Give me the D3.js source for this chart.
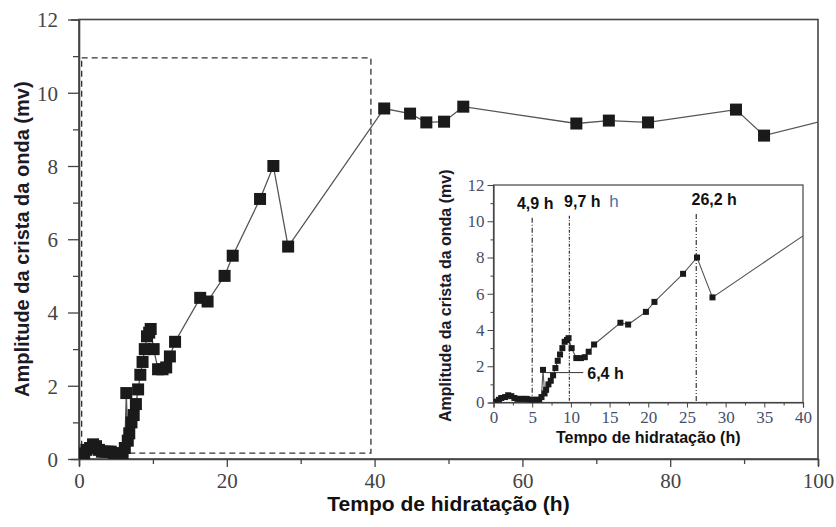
<!DOCTYPE html>
<html><head><meta charset="utf-8">
<script src="https://cdn.jsdelivr.net/npm/d3@7"></script>
<style>
body{margin:0;background:#fff}
.serif{font-family:"Liberation Serif","Tinos","Noto Serif","DejaVu Serif","FreeSerif","Nimbus Roman","Times New Roman",Times,serif !important}
.sans{font-family:"Liberation Sans",Arial,Helvetica,sans-serif}
</style>
</head><body>
<svg id="c" width="836" height="527"></svg>
<script>
const hours = [0.3,0.7,1.0,1.5,1.9,2.3,2.7,3.1,3.5,3.9,4.3,4.7,5.1,5.5,5.9,6.2,6.4,6.6,6.8,7.1,7.4,7.7,8.0,8.3,8.6,8.9,9.2,9.5,9.7,10.1,10.7,11.3,11.8,12.3,13.0,16.4,17.4,19.7,20.8,24.5,26.3,28.3,41.3,44.8,47.0,49.4,52.0,67.3,71.7,77.0,88.9,92.7,104];
const amplitude = [0.05,0.15,0.25,0.3,0.4,0.35,0.25,0.2,0.2,0.2,0.2,0.15,0.15,0.15,0.15,0.3,1.8,0.5,0.7,1.0,1.2,1.5,1.9,2.3,2.65,3.0,3.35,3.45,3.55,3.0,2.45,2.45,2.5,2.8,3.2,4.4,4.3,5.0,5.55,7.1,8.0,5.8,9.57,9.43,9.19,9.21,9.62,9.16,9.24,9.19,9.54,8.83,9.4];
const mainXTicks = [0,20,40,60,80,100];
const mainYTicks = [0,2,4,6,8,10,12];
const insetXTicks = [0,5,10,15,20,25,30,35,40];
const insetYTicks = [0,2,4,6,8,10,12];
const zoomBox = {t0:0.36, t1:39.5, v0:0.16, v1:10.95};
const markLines = [{t:5.0, top:10.2, label:"4,9 h", dx:3, dash:"5,2,1,2"},{t:9.8, top:10.3, label:"9,7 h", dx:13, dash:"3,1.5,1,1.5"},{t:26.2, top:10.4, label:"26,2 h", dx:18, dash:"5,2,1,2,1,2"}];
const label64 = {t0:6.7, t1:11.6, v:1.65, label:"6,4 h"};
const xTitle = "Tempo de hidratação (h)";
const yTitle = "Amplitude da crista da onda (mv)";
const data = hours.map((h,i)=>({t:h,v:amplitude[i]}));

const svg = d3.select("#c");

// ---- main chart
const L=79, R=818, T=19.5, B=459;
const x = d3.scaleLinear().domain([0,100]).range([L,R]);
const y = d3.scaleLinear().domain([0,12]).range([B,T]);
svg.append("defs").append("clipPath").attr("id","mclip").append("rect").attr("x",L).attr("y",T).attr("width",R-L).attr("height",B-T);
svg.append("rect").attr("x",L).attr("y",T).attr("width",R-L).attr("height",B-T).attr("fill","none").attr("stroke","#444").attr("stroke-width",1.6);

const xa = svg.append("g").attr("transform",`translate(0,${B})`)
  .call(d3.axisBottom(x).tickValues(d3.range(0,101,10)).tickSize(7).tickFormat(d=>mainXTicks.includes(d)?d:""));
xa.selectAll(".tick line").attr("y2",d=>d%20===0?8:5);
const ya = svg.append("g").attr("transform",`translate(${L},0)`)
  .call(d3.axisLeft(y).tickValues(d3.range(0,13,1)).tickSize(8).tickFormat(d=>mainYTicks.includes(d)?d:""));
ya.selectAll(".tick line").attr("x2",d=>d%2===0?-11:-6);
[xa,ya].forEach(a=>{a.attr("font-family",null).attr("font-size",null);
  a.select(".domain").attr("stroke","#444").attr("stroke-width",1.6);
  a.selectAll(".tick line").attr("stroke","#444").attr("stroke-width",1.3);
  a.selectAll("text").attr("class","serif").style("font-size","21px").attr("fill","#444");});
xa.selectAll("text").attr("dy","0.71em").attr("y",14);
ya.selectAll("text").attr("x",-21).attr("dy","0.35em");

svg.append("rect").attr("x",x(zoomBox.t0)).attr("y",y(zoomBox.v1)).attr("width",x(zoomBox.t1)-x(zoomBox.t0)).attr("height",y(zoomBox.v0)-y(zoomBox.v1))
  .attr("fill","none").attr("stroke","#333").attr("stroke-width",1.3).attr("stroke-dasharray","6,4");

const mg = svg.append("g").attr("clip-path","url(#mclip)");
mg.append("path").datum(data).attr("d",d3.line().x(d=>x(d.t)).y(d=>y(d.v))).attr("fill","none").attr("stroke","#555").attr("stroke-width",1.3);
mg.selectAll("rect.m").data(data).join("rect").attr("class","m").attr("x",d=>x(d.t)-6).attr("y",d=>y(d.v)-6).attr("width",12).attr("height",12).attr("fill","#1a1a1a");

svg.append("text").attr("class","sans").attr("x",(L+R)/2).attr("y",511).attr("text-anchor","middle").attr("font-weight","bold").style("font-size","21px").attr("fill","#111").text(xTitle);
svg.append("text").attr("class","sans").attr("transform",`translate(22,${(T+B)/2}) rotate(-90)`).attr("dy","0.35em").attr("text-anchor","middle").attr("font-weight","bold").style("font-size","20px").attr("fill","#1a1a2a").text(yTitle);

// ---- inset
const iL=493.5, iR=803, iT=185, iB=402.5;
svg.append("rect").attr("x",428).attr("y",168).attr("width",iR-428+6).attr("height",455-168).attr("fill","#fff");
const ix = d3.scaleLinear().domain([0,40]).range([iL,iR]);
const iy = d3.scaleLinear().domain([0,12]).range([iB,iT]);
svg.select("defs").append("clipPath").attr("id","iclip").append("rect").attr("x",iL).attr("y",iT).attr("width",iR-iL).attr("height",iB-iT);
svg.append("rect").attr("x",iL).attr("y",iT).attr("width",iR-iL).attr("height",iB-iT).attr("fill","none").attr("stroke","#444").attr("stroke-width",1.2);
const ixa = svg.append("g").attr("transform",`translate(0,${iB})`)
  .call(d3.axisBottom(ix).tickValues(d3.range(0,40.1,2.5)).tickSize(5).tickFormat(d=>insetXTicks.includes(d)?d:""));
ixa.selectAll(".tick line").attr("y2",d=>d%5===0?5:3);
const iya = svg.append("g").attr("transform",`translate(${iL},0)`)
  .call(d3.axisLeft(iy).tickValues(d3.range(0,13,1)).tickSize(5).tickFormat(d=>insetYTicks.includes(d)?d:""));
iya.selectAll(".tick line").attr("x2",d=>d%2===0?-6:-3);
[ixa,iya].forEach(a=>{a.attr("font-family",null).attr("font-size",null);
  a.select(".domain").attr("stroke","#444").attr("stroke-width",1.2);
  a.selectAll(".tick line").attr("stroke","#444");
  a.selectAll("text").attr("class","serif").style("font-size","17px").attr("fill","#45506a");});
ixa.selectAll("text").attr("y",8);
iya.selectAll("text").attr("x",-9);

const ig = svg.append("g").attr("clip-path","url(#iclip)");
ig.append("path").datum(data).attr("d",d3.line().x(d=>ix(d.t)).y(d=>iy(d.v))).attr("fill","none").attr("stroke","#555").attr("stroke-width",1.1);
ig.selectAll("rect.i").data(data.filter(d=>d.t<=40)).join("rect").attr("class","i").attr("x",d=>ix(d.t)-3).attr("y",d=>iy(d.v)-3).attr("width",6).attr("height",6).attr("fill","#1a1a1a");

markLines.forEach(m=>{
  svg.append("line").attr("x1",ix(m.t)).attr("x2",ix(m.t)).attr("y1",iy(m.top)).attr("y2",iy(0)).attr("stroke","#222").attr("stroke-width",1.1).attr("stroke-dasharray",m.dash);
  svg.append("text").attr("class","sans").attr("x",ix(m.t)+m.dx).attr("y",iy(m.top)-9).attr("text-anchor","middle").attr("font-weight","bold").style("font-size","16px").attr("fill","#111").text(m.label);
});
svg.append("text").attr("class","sans").attr("x",ix(9.8)+40).attr("y",iy(10.3)-9).style("font-size","17px").attr("fill","#4a6fa5").text("h");
svg.append("line").attr("x1",ix(label64.t0)).attr("x2",ix(label64.t1)).attr("y1",iy(label64.v)).attr("y2",iy(label64.v)).attr("stroke","#333").attr("stroke-width",1);
svg.append("text").attr("class","sans").attr("x",ix(label64.t1)+4).attr("y",iy(label64.v)+6).attr("font-weight","bold").style("font-size","16px").attr("fill","#111").text(label64.label);

svg.append("text").attr("class","sans").attr("x",(iL+iR)/2).attr("y",443).attr("text-anchor","middle").attr("font-weight","bold").style("font-size","16px").attr("fill","#111").text(xTitle);
svg.append("text").attr("class","sans").attr("transform",`translate(445,${(iT+iB)/2+2}) rotate(-90)`).attr("dy","0.35em").attr("text-anchor","middle").attr("font-weight","bold").style("font-size","16px").attr("fill","#1a1a2a").text(yTitle);
</script>
</body></html>
